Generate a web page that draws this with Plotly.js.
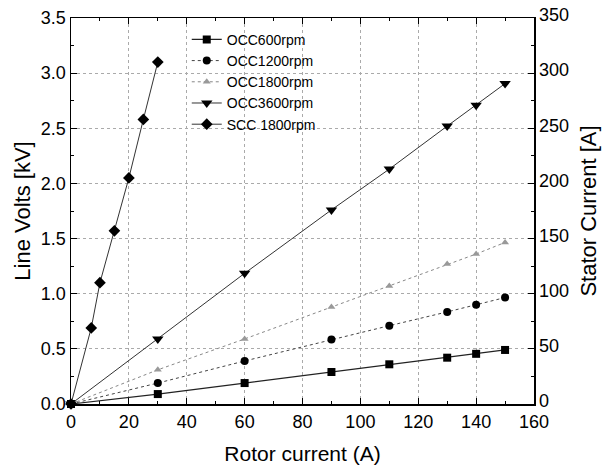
<!DOCTYPE html>
<html>
<head>
<meta charset="utf-8">
<script src="https://cdn.plot.ly/plotly-3.0.1.min.js"></script>
<style>html,body{margin:0;padding:0;background:#fff;}#chart{width:611px;height:471px;}</style>
</head>
<body>
<div id="chart"></div>
<script>
// Rotor current (A)
const occX = [0, 30, 60, 90, 110, 130, 140, 150];
const occ600 = [0, 0.09, 0.19, 0.29, 0.36, 0.42, 0.455, 0.49];
const occ1200 = [0, 0.19, 0.39, 0.585, 0.71, 0.835, 0.9, 0.965];
const occ1800 = [0, 0.31, 0.59, 0.88, 1.07, 1.27, 1.36, 1.465];
const occ3600 = [0, 0.59, 1.185, 1.76, 2.13, 2.52, 2.71, 2.905];
const sccX = [0, 7, 10, 15, 20, 25, 30];
const scc1800 = [0, 69, 110, 157, 205, 258, 310];
const seriesNames = ["OCC600rpm", "OCC1200rpm", "OCC1800rpm", "OCC3600rpm", "SCC 1800rpm"];

const font = "Liberation Sans, Arial, sans-serif";
const traces = [
  {x: occX, y: occ600, name: seriesNames[0], mode: "lines+markers",
   line: {color: "#222", width: 1.2}, marker: {symbol: "square", size: 8, color: "#000"}},
  {x: occX, y: occ1200, name: seriesNames[1], mode: "lines+markers",
   line: {color: "#444", width: 1, dash: "dot"}, marker: {symbol: "circle", size: 8, color: "#000"}},
  {x: occX, y: occ1800, name: seriesNames[2], mode: "lines+markers",
   line: {color: "#888", width: 1, dash: "dot"}, marker: {symbol: "triangle-up", size: 7, color: "#999"}},
  {x: occX, y: occ3600, name: seriesNames[3], mode: "lines+markers",
   line: {color: "#333", width: 1}, marker: {symbol: "triangle-down", size: 10, color: "#000"}},
  {x: sccX, y: scc1800, name: seriesNames[4], mode: "lines+markers", yaxis: "y2",
   line: {color: "#333", width: 1}, marker: {symbol: "diamond", size: 9, color: "#000"}}
];
traces.forEach(t => { t.cliponaxis = false; });

const layout = {
  width: 611, height: 471,
  margin: {l: 71, r: 77, t: 18, b: 67},
  paper_bgcolor: "#fff", plot_bgcolor: "#fff",
  font: {family: font, color: "#000", size: 18},
  showlegend: true,
  legend: {x: 0.25, y: 0.985, xanchor: "left", yanchor: "top", bgcolor: "rgba(255,255,255,0)",
           font: {size: 14, family: font}, tracegroupgap: 0, itemwidth: 30},
  xaxis: {
    range: [0, 160], dtick: 20, tick0: 0,
    showline: true, linecolor: "#000", linewidth: 1.5, mirror: "ticks",
    ticks: "inside", ticklen: 6, tickcolor: "#000",
    minor: {ticks: "inside", ticklen: 3, dtick: 10, tickcolor: "#000"},
    showgrid: true, gridcolor: "#aaa", griddash: "dot", gridwidth: 1,
    zeroline: false,
    tickfont: {size: 18},
    ticklabelstandoff: 1,
    title: {text: "Rotor current (A)", font: {size: 21}, standoff: 15}
  },
  yaxis: {
    range: [0, 3.5], dtick: 0.5, tick0: 0, tickformat: ".1f",
    showline: true, linecolor: "#000", linewidth: 1.5,
    ticks: "inside", ticklen: 6, tickcolor: "#000",
    minor: {ticks: "inside", ticklen: 3, dtick: 0.25, tickcolor: "#000"},
    showgrid: true, gridcolor: "#aaa", griddash: "dot", gridwidth: 1,
    zeroline: false,
    tickfont: {size: 18},
    title: {text: "Line Volts [kV]", font: {size: 22}, standoff: 4}
  },
  yaxis2: {
    overlaying: "y", side: "right",
    range: [0, 350], dtick: 50, tick0: 0,
    showline: true, linecolor: "#000", linewidth: 1.5,
    ticks: "inside", ticklen: 6, tickcolor: "#000",
    minor: {ticks: "inside", ticklen: 3, dtick: 25, tickcolor: "#000"},
    showgrid: false, zeroline: false,
    tickfont: {size: 18},
    ticklabelshift: -3,
    title: {text: "Stator Current [A]", font: {size: 22}, standoff: 12}
  }
};

Plotly.newPlot("chart", traces, layout, {displayModeBar: false, staticPlot: true});
</script>
</body>
</html>
